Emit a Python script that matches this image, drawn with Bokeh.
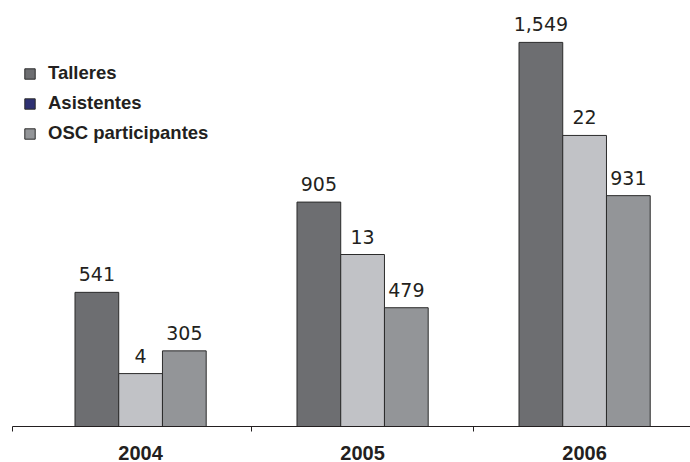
from bokeh.plotting import figure
from bokeh.models import Range1d, FixedTicker, ColumnDataSource, Legend, LegendItem
from bokeh.core.properties import value
from bokeh.embed import file_html
from bokeh.resources import INLINE

# ---- data ----
years = ["2004", "2005", "2006"]
talleres = [541, 905, 1549]
asistentes = [4, 13, 22]
osc = [305, 479, 931]
series_names = ["Talleres", "Asistentes", "OSC participantes"]

# ---- styles ----
bar_colors = ["#6d6e71", "#c1c2c6", "#939598"]
legend_colors = ["#6d6e71", "#2e3172", "#939598"]
edge = "#2b2b2b"
txt = "#231f20"

W, H = 690, 462
x_start, x_end = -0.577, 2.477
y_end = 1718
asist_end = 32.2
bw = 0.197

p = figure(width=W, height=H, output_backend="svg", toolbar_location=None,
           x_range=Range1d(x_start, x_end), y_range=Range1d(0, y_end),
           min_border_left=12, min_border_right=0, min_border_top=0,
           min_border_bottom=35, y_axis_location=None,
           outline_line_color=None, background_fill_color="white",
           border_fill_color="white")
p.extra_y_ranges = {"asist": Range1d(0, asist_end)}
p.grid.visible = False

idx = list(range(len(years)))
series = [
    (talleres, -1, "default"),
    (asistentes, 0, "asist"),
    (osc, 1, "default"),
]

bar_renderers = []
sources = []
for (vals, off, rname), color in zip(series, bar_colors):
    src = ColumnDataSource(dict(
        x=[i + off * bw for i in idx],
        top=vals,
        label=[f"{v:,}" for v in vals],
    ))
    sources.append(src)
    r = p.vbar(x="x", top="top", width=bw, source=src, fill_color=color,
               line_color=edge, line_width=1, y_range_name=rname)
    bar_renderers.append(r)
    p.text(x="x", y="top", text="label", source=src, y_range_name=rname,
           text_align="center", text_baseline="alphabetic", y_offset=-18,
           text_font=value("DejaVu Sans"), text_font_size=value("19px"),
           text_color=txt)

# legend swatch for Asistentes is navy in the original (differs from its bar)
swatch = p.vbar(x="x", top="top", width=bw, source=sources[1],
                fill_color=legend_colors[1], line_color=edge, line_width=1,
                y_range_name="asist", visible=False)
legend_renderers = [bar_renderers[0], swatch, bar_renderers[2]]
legend = Legend(
    items=[LegendItem(label=n, renderers=[r]) for n, r in zip(series_names, legend_renderers)],
    location=(11, 282), orientation="vertical",
    glyph_width=13, glyph_height=13, label_height=13, label_standoff=12,
    spacing=8, padding=0, margin=0, border_line_color=None,
    background_fill_alpha=0, inactive_fill_alpha=0,
    label_text_font="Liberation Sans", label_text_font_style="bold",
    label_text_font_size="18.5px", label_text_color=txt,
)
p.add_layout(legend)

# x axis
ax = p.xaxis[0]
ax.ticker = FixedTicker(ticks=idx,
                        minor_ticks=[x_start] + [i + 0.5 for i in idx[:-1]])
ax.major_label_overrides = {i: y for i, y in zip(idx, years)}
ax.major_tick_out = 0
ax.major_tick_in = 0
ax.minor_tick_out = 5
ax.minor_tick_in = 0
ax.minor_tick_line_color = txt
ax.axis_line_color = txt
ax.axis_line_width = 1
ax.major_label_standoff = 14
ax.major_label_text_font = "Liberation Sans"
ax.major_label_text_font_style = "bold"
ax.major_label_text_font_size = "20px"
ax.major_label_text_color = txt

open("out.html", "w").write(file_html(p, INLINE))
